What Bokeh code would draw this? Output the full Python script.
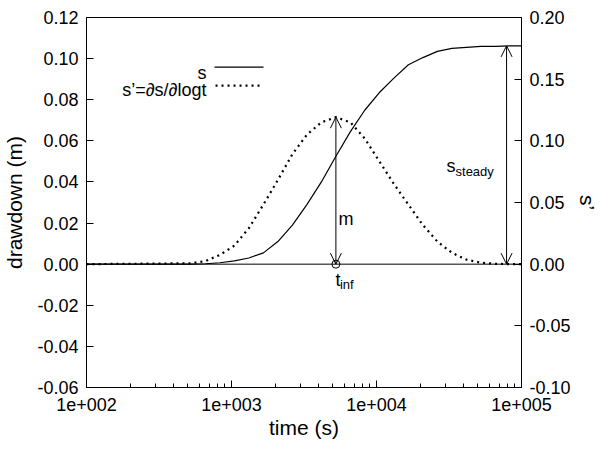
from bokeh.plotting import figure
from bokeh.models import (Range1d, LinearAxis, FixedTicker, NumeralTickFormatter,
                          Arrow, OpenHead, Span, Label)
from bokeh.embed import file_html
from bokeh.resources import INLINE

# ---- data ----
time_s = [100, 525, 661, 832, 1047, 1318, 1660, 2089, 2630, 3311, 4169, 5248,
          6607, 8318, 10471, 13183, 16596, 20893, 26303, 33113, 41687, 52481,
          66069, 83176, 100000]
drawdown = [0.0, 0.0, 0.0002, 0.0007, 0.0016, 0.0030, 0.0055, 0.0110, 0.0190,
            0.0290, 0.0400, 0.0525, 0.0645, 0.0750, 0.0835, 0.0905, 0.0970,
            0.1005, 0.1035, 0.1050, 0.1055, 0.1060, 0.1060, 0.1062, 0.1062]
derivative = [0.0, 0.0007, 0.0025, 0.0075, 0.0150, 0.0292, 0.0483, 0.0683,
              0.0892, 0.1050, 0.1150, 0.1192, 0.1150, 0.1017, 0.0833, 0.0650,
              0.0483, 0.0317, 0.0183, 0.0092, 0.0037, 0.0012, 0.0003, 0.0, 0.0]
t_steady = 78900

x_ticks = [100, 1000, 10000, 100000]
x_tick_labels = ["1e+002", "1e+003", "1e+004", "1e+005"]
x_minor = [m * d for d in (100, 1000, 10000) for m in range(2, 10)]
y_ticks = [-0.06, -0.04, -0.02, 0.0, 0.02, 0.04, 0.06, 0.08, 0.10, 0.12]
y2_ticks = [-0.10, -0.05, 0.0, 0.05, 0.10, 0.15, 0.20]

FONT = "Liberation Sans"

p = figure(frame_width=435, frame_height=370, x_axis_type="log",
           x_range=Range1d(100, 100000), y_range=Range1d(-0.06, 0.12),
           output_backend="svg", toolbar_location=None,
           min_border_left=83, min_border_right=70,
           min_border_top=17, min_border_bottom=50)
p.extra_y_ranges = {"sp": Range1d(-0.10, 0.20)}
p.grid.visible = False
p.outline_line_color = "black"
p.outline_line_width = 1
p.background_fill_color = "white"
p.border_fill_color = "white"

# axes
def style_axis(ax):
    ax.major_label_text_font = FONT
    ax.major_label_text_font_size = "18px"
    ax.major_label_text_color = "black"
    ax.axis_label_text_font = FONT
    ax.axis_label_text_font_size = "21px"
    ax.axis_label_text_font_style = "normal"
    ax.axis_label_text_color = "black"
    ax.axis_line_color = "black"
    ax.major_tick_line_color = "black"
    ax.major_tick_in = 7
    ax.major_tick_out = 0

xa = p.xaxis[0]
style_axis(xa)
xa.ticker = FixedTicker(ticks=x_ticks, minor_ticks=x_minor)
xa.major_label_overrides = {float(k): v for k, v in zip(x_ticks, x_tick_labels)}
xa.minor_tick_in = 4
xa.minor_tick_out = 0
xa.minor_tick_line_color = "black"
xa.axis_label = "time (s)"
xa.major_label_standoff = 10
xa.axis_label_standoff = 2

ya = p.yaxis[0]
style_axis(ya)
ya.ticker = FixedTicker(ticks=y_ticks)
ya.formatter = NumeralTickFormatter(format="0.00")
ya.minor_tick_line_color = None
ya.axis_label = "drawdown (m)"
ya.major_label_standoff = 8
ya.axis_label_standoff = 8

ya2 = LinearAxis(y_range_name="sp")
style_axis(ya2)
ya2.ticker = FixedTicker(ticks=y2_ticks)
ya2.formatter = NumeralTickFormatter(format="0.00")
ya2.minor_tick_line_color = None
ya2.axis_label = "s\u2019"
ya2.major_label_standoff = 8
ya2.axis_label_standoff = 2
p.add_layout(ya2, "right")

# zero line
p.add_layout(Span(location=0, dimension="width", line_color="black", line_width=1))

# curves
p.line(time_s, drawdown, line_color="black", line_width=1.2)
p.line(time_s, derivative, y_range_name="sp", line_color="black",
       line_width=2.2, line_dash="2 4")

# inflection point and arrows
i_inf = derivative.index(max(derivative))
t_inf = time_s[i_inf]
p.scatter([t_inf], [0], size=8, marker="circle", fill_color=None,
          line_color="black", line_width=1)

p.add_layout(Arrow(x_start=t_inf, y_start=0, x_end=t_inf, y_end=max(derivative),
                   y_range_name="sp",
                   start=OpenHead(size=11, line_width=1, line_color="black"),
                   end=OpenHead(size=11, line_width=1, line_color="black"),
                   line_color="black", line_width=1))
p.add_layout(Arrow(x_start=t_steady, y_start=0, x_end=t_steady, y_end=max(drawdown),
                   start=OpenHead(size=11, line_width=1, line_color="black"),
                   end=OpenHead(size=11, line_width=1, line_color="black"),
                   line_color="black", line_width=1))

def lab(x, y, text, size="18px", align="left"):
    p.add_layout(Label(x=x, y=y, text=text, text_font=FONT, text_font_size=size,
                       text_color="black", text_align=align,
                       text_baseline="alphabetic"))

lab(5470, 0.0219, "m")
lab(30400, 0.0477, "s")
lab(35070, 0.0453, "steady", size="13px")
lab(5210, -0.0078, "t")
lab(5598, -0.0097, "inf", size="13px")

# legend (text then sample)
lab(672, 0.0929, "s", align="right")
lab(672, 0.0847, "s\u2019=\u2202s/\u2202logt", align="right")
p.add_layout(Arrow(x_start=764, y_start=0.0959, x_end=1663, y_end=0.0959,
                   start=None, end=None, line_color="black", line_width=1.2))
p.add_layout(Arrow(x_start=776, y_start=0.0869, x_end=1583, y_end=0.0869,
                   start=None, end=None, line_color="black", line_width=2.2,
                   line_dash="2 4"))

open("out.html", "w").write(file_html(p, INLINE))
